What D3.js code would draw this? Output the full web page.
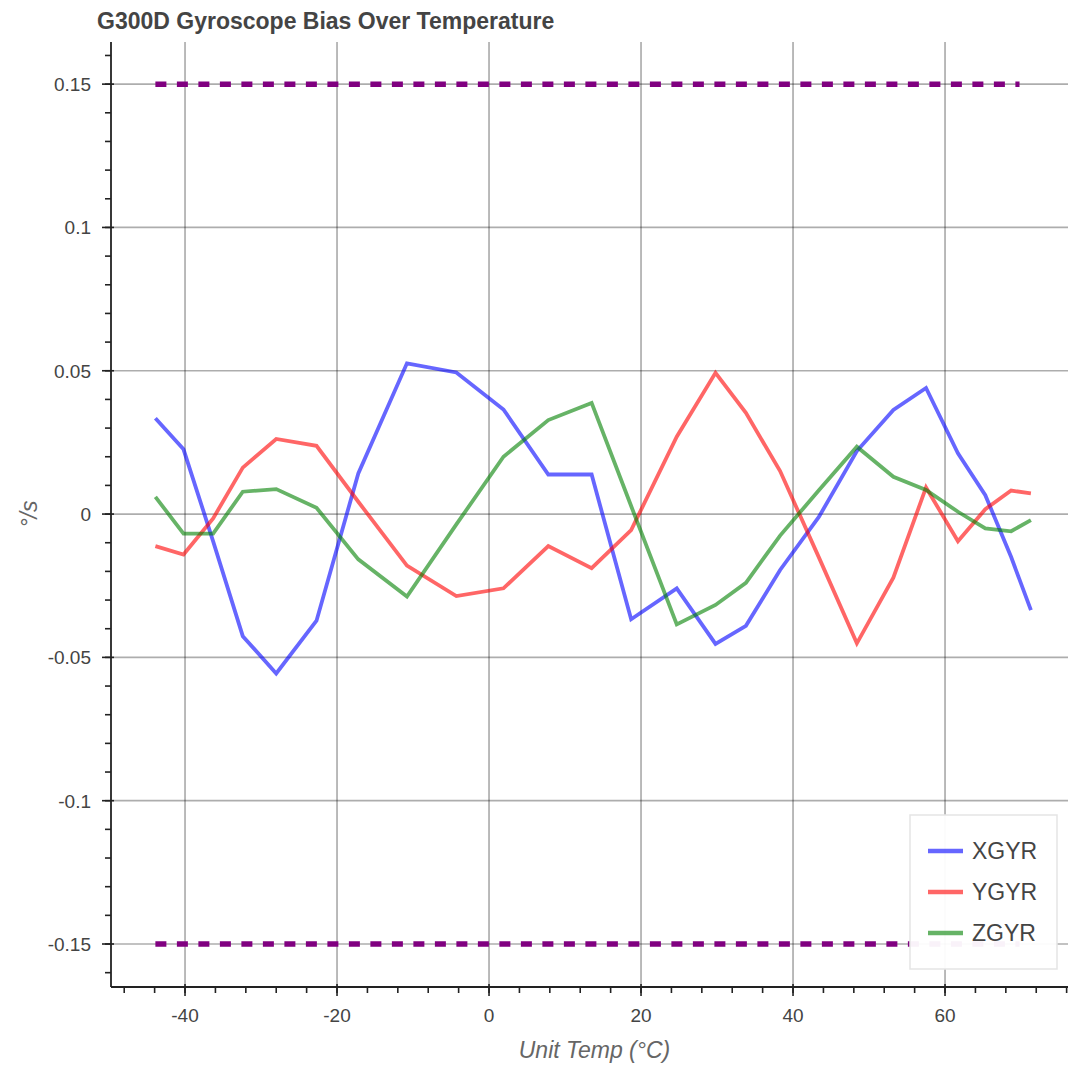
<!DOCTYPE html>
<html>
<head>
<meta charset="utf-8">
<script src="https://cdn.jsdelivr.net/npm/d3@7"></script>
<style>
  html, body { margin: 0; padding: 0; background: #fff; }
  text { font-family: "Liberation Sans", Arial, Helvetica, sans-serif; }
</style>
</head>
<body>
<svg id="chart" width="1068" height="1066"></svg>
<script>
// ---- data ----
const temps = [-43.9, -40.2, -36.3, -32.4, -28.0, -22.7, -17.2, -10.8, -4.3, 1.9, 7.8, 13.5, 18.7, 24.7, 29.8, 33.8, 38.3, 43.4, 48.4, 53.2, 57.5, 61.7, 65.3, 68.7, 71.3];
const xgyr = [0.0334, 0.0226, -0.0095, -0.0426, -0.0556, -0.0372, 0.0142, 0.0526, 0.0494, 0.0365, 0.0138, 0.0138, -0.0367, -0.0259, -0.0453, -0.0390, -0.0195, -0.0010, 0.0220, 0.0363, 0.0440, 0.0212, 0.0066, -0.0150, -0.0335];
const ygyr = [-0.0112, -0.0141, -0.0015, 0.0162, 0.0262, 0.0238, 0.0043, -0.0180, -0.0286, -0.0259, -0.0112, -0.0189, -0.0056, 0.0270, 0.0493, 0.0353, 0.0150, -0.0151, -0.0451, -0.0222, 0.0093, -0.0095, 0.0017, 0.0082, 0.0072];
const zgyr = [0.0060, -0.0068, -0.0068, 0.0078, 0.0087, 0.0022, -0.0158, -0.0288, -0.0036, 0.0200, 0.0328, 0.0388, 0.0028, -0.0385, -0.0317, -0.0240, -0.0075, 0.0083, 0.0235, 0.0130, 0.0084, 0.0008, -0.0050, -0.0060, -0.0021];
const seriesNames = ["XGYR", "YGYR", "ZGYR"];
const seriesColors = ["#0000ff", "#ff0000", "#008000"];
const limitTemps = [-43.9, 69.8];
const limitValues = [0.15, -0.15];
const xTicks = [-40, -20, 0, 20, 40, 60];
const yTicks = [0.15, 0.1, 0.05, 0, -0.05, -0.1, -0.15];
const yTickLabels = ["0.15", "0.1", "0.05", "0", "-0.05", "-0.1", "-0.15"];
const titleText = "G300D Gyroscope Bias Over Temperature";
const xLabelText = "Unit Temp (°C)";
const yLabelText = "°/s";

(function () {
// ---- layout ----
const pL = 111, pR = 1068, pT = 42, pB = 987;
const x = d3.scaleLinear().domain([-49.74, 76.18]).range([pL, pR]);
const y = d3.scaleLinear().domain([-0.165, 0.1647]).range([pB, pT]);

const svg = d3.select("#chart");

// grid
const grid = svg.append("g");
grid.selectAll("line.v").data(xTicks).enter().append("line")
  .attr("x1", d => x(d)).attr("x2", d => x(d)).attr("y1", pT).attr("y2", pB)
  .attr("stroke", "#000").attr("stroke-opacity", 0.32).attr("stroke-width", 1.7);
grid.selectAll("line.h").data(yTicks).enter().append("line")
  .attr("x1", pL).attr("x2", pR).attr("y1", d => y(d)).attr("y2", d => y(d))
  .attr("stroke", "#000").attr("stroke-opacity", 0.32).attr("stroke-width", 1.7);

// limit lines
limitValues.forEach(v => {
  svg.append("path")
    .datum(limitTemps.map(t => [t, v]))
    .attr("d", d3.line().x(d => x(d[0])).y(d => y(d[1])))
    .attr("fill", "none").attr("stroke", "#800080").attr("stroke-width", 5.5)
    .attr("stroke-dasharray", "11 10.5");
});

// series lines
const allSeries = [xgyr, ygyr, zgyr];
const line = d3.line().x((d, i) => x(temps[i])).y(d => y(d));
allSeries.forEach((s, k) => {
  svg.append("path").datum(s).attr("d", line)
    .attr("fill", "none").attr("stroke", seriesColors[k]).attr("stroke-opacity", 0.6)
    .attr("stroke-width", 3.8).attr("stroke-linejoin", "miter");
});

// axes
const axisColor = "#222";
const labelColor = "#444";
const xAxisG = svg.append("g").attr("transform", `translate(0,${pB})`);
const xMinor = d3.range(-48, 77, 4);
xAxisG.selectAll("line.minor").data(xMinor).enter().append("line")
  .attr("x1", d => x(d)).attr("x2", d => x(d)).attr("y1", 0).attr("y2", 6)
  .attr("stroke", axisColor).attr("stroke-width", 1.6);
xAxisG.selectAll("line.major").data(xTicks).enter().append("line")
  .attr("x1", d => x(d)).attr("x2", d => x(d)).attr("y1", -3).attr("y2", 9)
  .attr("stroke", axisColor).attr("stroke-width", 1.6);
xAxisG.append("line").attr("x1", pL).attr("x2", pR).attr("y1", 0).attr("y2", 0)
  .attr("stroke", axisColor).attr("stroke-width", 1.8);
xAxisG.selectAll("text").data(xTicks).enter().append("text")
  .attr("x", d => x(d)).attr("y", 35).attr("text-anchor", "middle")
  .attr("font-size", 19).attr("fill", labelColor).text(d => d);

const yAxisG = svg.append("g").attr("transform", `translate(${pL},0)`);
const yMinor = d3.range(-16, 17, 1).map(v => v / 100);
yAxisG.selectAll("line.minor").data(yMinor).enter().append("line")
  .attr("x1", -6).attr("x2", 0).attr("y1", d => y(d)).attr("y2", d => y(d))
  .attr("stroke", axisColor).attr("stroke-width", 1.6);
yAxisG.selectAll("line.major").data(yTicks).enter().append("line")
  .attr("x1", -9).attr("x2", 3).attr("y1", d => y(d)).attr("y2", d => y(d))
  .attr("stroke", axisColor).attr("stroke-width", 1.6);
yAxisG.append("line").attr("x1", 0).attr("x2", 0).attr("y1", pT).attr("y2", pB)
  .attr("stroke", axisColor).attr("stroke-width", 1.8);
yAxisG.selectAll("text").data(yTicks).enter().append("text")
  .attr("x", -20).attr("y", d => y(d)).attr("dy", "0.36em").attr("text-anchor", "end")
  .attr("font-size", 19).attr("fill", labelColor).text((d, i) => yTickLabels[i]);

// title and axis labels
svg.append("text").attr("x", 97).attr("y", 29).attr("font-size", 23).attr("font-weight", "bold")
  .attr("fill", labelColor).text(titleText);
svg.append("text").attr("x", (pL + pR) / 2 + 5).attr("y", 1058).attr("text-anchor", "middle")
  .attr("font-size", 23).attr("font-style", "italic").attr("fill", "#666").text(xLabelText);
svg.append("text").attr("transform", `translate(37,${y(0)}) rotate(-90)`).attr("text-anchor", "middle")
  .attr("font-size", 23).attr("font-style", "italic").attr("fill", "#666").text(yLabelText);

// legend
const lg = svg.append("g");
lg.append("rect").attr("x", 910).attr("y", 815).attr("width", 147).attr("height", 154)
  .attr("fill", "#fff").attr("fill-opacity", 0.95).attr("stroke", "#e5e5e5").attr("stroke-width", 1.5);
const legendY = [851, 892, 933];
seriesNames.forEach((n, k) => {
  lg.append("line").attr("x1", 928).attr("x2", 963).attr("y1", legendY[k]).attr("y2", legendY[k])
    .attr("stroke", seriesColors[k]).attr("stroke-opacity", 0.6).attr("stroke-width", 4.5);
  lg.append("text").attr("x", 972).attr("y", legendY[k]).attr("dy", "0.36em")
    .attr("font-size", 23).attr("fill", labelColor).text(n);
});
})();
</script>
</body>
</html>
